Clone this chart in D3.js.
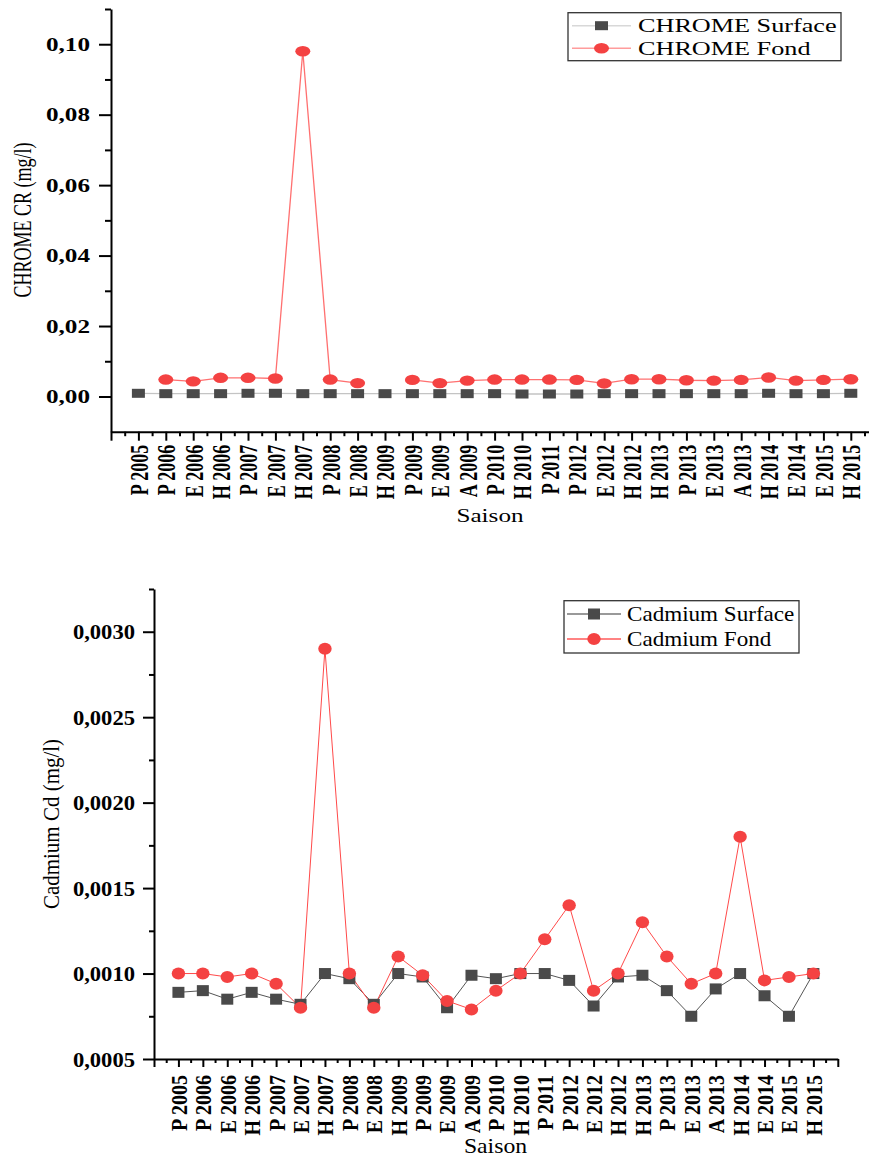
<!DOCTYPE html>
<html><head><meta charset="utf-8">
<script src="https://cdn.jsdelivr.net/npm/d3@7"></script>
<style>body{margin:0;background:#fff;} svg{display:block;} svg text{font-family:"Liberation Serif","Times New Roman",serif !important;}</style>
</head><body>
<svg id="chart" width="869" height="1157"></svg>
<script>
const categories = ["P 2005","P 2006","E 2006","H 2006","P 2007","E 2007","H 2007","P 2008","E 2008","H 2009","P 2009","E 2009","A 2009","P 2010","H 2010","P 2011","P 2012","E 2012","H 2012","H 2013","P 2013","E 2013","A 2013","H 2014","E 2014","E 2015","H 2015"];
const chromeSurface = [0.0009,0.0008,0.0008,0.0008,0.0009,0.0009,0.0008,0.0008,0.0008,0.0008,0.0008,0.0008,0.0008,0.0008,0.0007,0.0007,0.0007,0.0008,0.0008,0.0008,0.0008,0.0008,0.0008,0.0009,0.0008,0.0008,0.0009];
const chromeFond = [null,0.0048,0.0043,0.0053,0.0053,0.0051,0.098,0.0048,0.0038,null,0.0047,0.0038,0.0045,0.0048,0.0048,0.0048,0.0047,0.0037,0.0049,0.0049,0.0046,0.0045,0.0047,0.0054,0.0045,0.0047,0.0049];
const cadmiumSurface = [0.00089,0.0009,0.00085,0.00089,0.00085,0.00082,0.0010,0.00097,0.00082,0.0010,0.00098,0.0008,0.00099,0.00097,0.0010,0.0010,0.00096,0.00081,0.00098,0.00099,0.0009,0.00075,0.00091,0.0010,0.00087,0.00075,0.0010];
const cadmiumFond = [0.0010,0.0010,0.00098,0.0010,0.00094,0.0008,0.0029,0.0010,0.0008,0.0011,0.00099,0.00084,0.00079,0.0009,0.0010,0.0012,0.0014,0.0009,0.0010,0.0013,0.0011,0.00094,0.0010,0.0018,0.00096,0.00098,0.0010];
const chromeTicks = [0,0.02,0.04,0.06,0.08,0.10];
const chromeMinor = [0.01,0.03,0.05,0.07,0.09,0.11];
const cadmiumTicks = [0.0005,0.0010,0.0015,0.0020,0.0025,0.0030];
const cadmiumMinor = [0.00075,0.00125,0.00175,0.00225,0.00275,0.00325];
const legendChrome = ["CHROME Surface","CHROME Fond"];
const legendCadmium = ["Cadmium Surface","Cadmium Fond"];

const svg = d3.select("#chart");
const SQ = "#4a4a4a", RD = "#f44242";
const FONT = '"Liberation Serif","Times New Roman",serif';

function panel(cfg){
  const g = svg.append("g");
  const x = d3.scaleLinear().domain([-1,27]).range([cfg.x0, cfg.x1]);
  const y = d3.scaleLinear().domain(cfg.ydom).range([cfg.y1, cfg.y0]);
  const fmt = d => d.toFixed(cfg.dec).replace(".", ",");
  g.append("g").attr("transform",`translate(${cfg.x0},0)`)
    .call(d3.axisLeft(y).tickValues(cfg.minor).tickSize(cfg.yMinorLen).tickSizeOuter(0).tickFormat(""))
    .call(a=>a.select(".domain").remove());
  const ya = g.append("g").attr("transform",`translate(${cfg.x0},0)`)
    .call(d3.axisLeft(y).tickValues(cfg.major).tickSize(cfg.yMajorLen).tickSizeOuter(0).tickFormat(fmt));
  ya.attr("font-family",FONT);
  ya.selectAll(".tick text").attr("x",0).attr("dy","0.35em")
    .attr("transform",`translate(${-cfg.yLabOff},0) scale(${cfg.sx},1)`)
    .style("font-family",FONT).style("font-size",cfg.tickFont+"px").style("font-weight","bold").attr("fill","#000");
  g.append("g").attr("transform",`translate(0,${cfg.y1})`)
    .call(d3.axisBottom(x).tickValues(d3.range(-0.5,27,1)).tickSize(cfg.xMinorLen).tickSizeOuter(0).tickFormat(""))
    .call(a=>a.select(".domain").remove());
  const xa = g.append("g").attr("transform",`translate(0,${cfg.y1})`)
    .call(d3.axisBottom(x).tickValues(d3.range(-1,28)).tickSize(cfg.xMajorLen).tickSizeOuter(0).tickFormat(d => categories[d] || ""));
  xa.attr("font-family",FONT);
  xa.selectAll(".tick text").attr("y",0).attr("dy","0.35em").attr("text-anchor","end")
    .attr("transform",`translate(0,${cfg.xLabOff}) scale(${cfg.sx},1) rotate(-90)`)
    .style("font-family",FONT).style("font-size",cfg.xFont+"px").style("font-weight","bold").attr("fill","#000");
  g.selectAll(".domain, .tick line").attr("stroke","#000").attr("stroke-width",2);

  g.append("text").attr("transform",`translate(${cfg.yTitleX},${cfg.yTitleY}) scale(${cfg.sx},1) rotate(-90)`)
    .attr("text-anchor","middle").style("font-family",FONT).style("font-size",cfg.titleFont+"px").text(cfg.ytitle);
  g.append("text").attr("transform",`translate(${cfg.xTitleX},${cfg.xTitleY}) scale(${cfg.sx},1)`)
    .attr("text-anchor","middle").style("font-family",FONT).style("font-size",cfg.titleFont+"px").text("Saison");

  const line = d3.line().defined(d => d != null).x((d,i)=>x(i)).y(d=>y(d));
  g.append("path").datum(cfg.s).attr("d",line).attr("fill","none").attr("stroke",cfg.sLine).attr("stroke-width",cfg.lw);
  g.append("path").datum(cfg.f).attr("d",line).attr("fill","none").attr("stroke",cfg.fLine).attr("stroke-width",cfg.lw);
  g.selectAll(".sq").data(cfg.s.map((v,i)=>({v,i})).filter(d=>d.v!=null)).join("rect")
    .attr("x",d=>x(d.i)-cfg.sqW/2).attr("y",d=>y(d.v)-cfg.sqH/2).attr("width",cfg.sqW).attr("height",cfg.sqH).attr("fill",SQ);
  g.selectAll(".ci").data(cfg.f.map((v,i)=>({v,i})).filter(d=>d.v!=null)).join("ellipse")
    .attr("cx",d=>x(d.i)).attr("cy",d=>y(d.v)).attr("rx",cfg.rx).attr("ry",cfg.ry).attr("fill",RD);

  const L = cfg.legend;
  g.append("rect").attr("x",L.x).attr("y",L.y).attr("width",L.w).attr("height",L.h)
    .attr("fill","#fff").attr("stroke","#333").attr("stroke-width",1.3);
  cfg.legendNames.forEach((name,k)=>{
    const cy = L.rows[k];
    g.append("line").attr("x1",L.lx0).attr("x2",L.lx1).attr("y1",cy).attr("y2",cy)
      .attr("stroke", k===0 ? cfg.sLegLine : cfg.fLegLine).attr("stroke-width",1.5);
    const mx = (L.lx0+L.lx1)/2;
    if(k===0) g.append("rect").attr("x",mx-cfg.sqW/2).attr("y",cy-cfg.sqH/2).attr("width",cfg.sqW).attr("height",cfg.sqH).attr("fill",SQ);
    else g.append("ellipse").attr("cx",mx).attr("cy",cy).attr("rx",cfg.rx).attr("ry",cfg.ry).attr("fill",RD);
    g.append("text").attr("transform",`translate(${L.tx},${cy}) scale(${L.sx},1)`).attr("dy","0.35em")
      .style("font-family",FONT).style("font-size",L.font+"px").text(name);
  });
}

panel({x0:111,x1:878.2,y0:9,y1:431.7,ydom:[-0.01,0.11],major:chromeTicks,minor:chromeMinor,dec:2,
  yMajorLen:12,yMinorLen:6,xMajorLen:9,xMinorLen:4.5,yLabOff:21,xLabOff:13,sx:1.4,tickFont:18,xFont:18,
  titleFont:18,ytitle:"CHROME CR (mg/l)",yTitleX:31,yTitleY:220,xTitleX:490,xTitleY:522,
  s:chromeSurface,f:chromeFond,sLine:"#c4c4c4",fLine:"#ff7070",lw:1.3,sqW:13,sqH:9,rx:7.5,ry:5.2,
  sLegLine:"#d8d8d8",fLegLine:"#ff9c9c",legendNames:legendChrome,
  legend:{x:568,y:12.7,w:273,h:48,rows:[25.7,48.3],lx0:572,lx1:631,tx:638,font:19,sx:1.38}});

panel({x0:154,x1:837.8,y0:589,y1:1059,ydom:[0.0005,0.00325],major:cadmiumTicks,minor:cadmiumMinor,dec:4,
  yMajorLen:11,yMinorLen:5,xMajorLen:8,xMinorLen:4,yLabOff:19,xLabOff:16,sx:1.13,tickFont:20,xFont:20,
  titleFont:21,ytitle:"Cadmium Cd (mg/l)",yTitleX:59,yTitleY:824,xTitleX:495.5,xTitleY:1153,
  s:cadmiumSurface,f:cadmiumFond,sLine:"#555",fLine:"#ff4a4a",lw:1,sqW:12,sqH:11,rx:6.7,ry:6,
  sLegLine:"#777",fLegLine:"#ff5a5a",legendNames:legendCadmium,
  legend:{x:564,y:600.7,w:235,h:52.3,rows:[614,639],lx0:567,lx1:621,tx:627,font:21,sx:1.1}});
</script>
</body></html>
